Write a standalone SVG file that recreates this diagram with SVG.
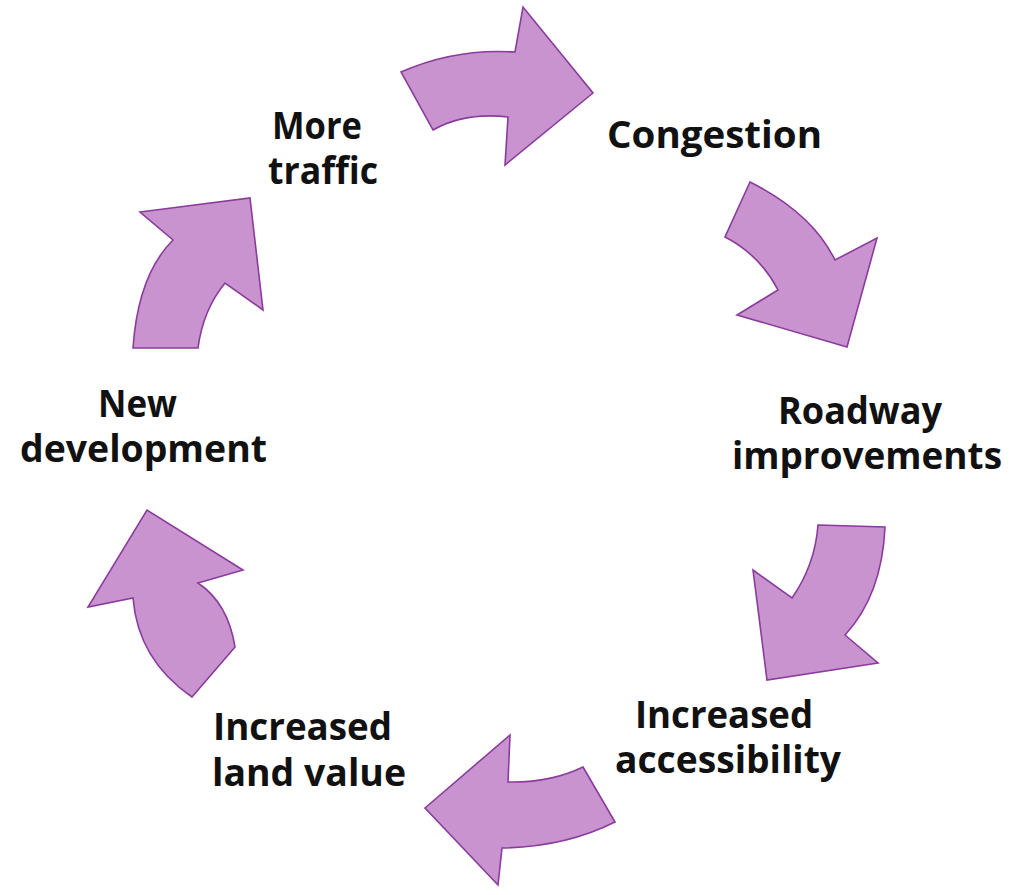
<svg xmlns="http://www.w3.org/2000/svg" width="1009" height="895" viewBox="0 0 1009 895">
<style>
.arrow{fill:#c993cf;stroke:#8a3c9c;stroke-width:1.6;stroke-linejoin:miter}
.lbl{font-family:"Open Sans","Liberation Sans",Arial,sans-serif;font-weight:bold;font-size:38px;fill:#111;text-anchor:middle}
</style>
<rect width="1009" height="895" fill="#ffffff"/>
<g id="connectors">
<path id="arrow-traffic-congestion" class="arrow" d="M401,72 Q455,48 515,52 L523,7 L593,93 L505,165 L508,117 Q465,112 433,130 Z"/>
<path id="arrow-congestion-roadway" class="arrow" d="M750,182 Q812,213 835,260 L877,238 L847,347 L737,315 L778,290 Q760,255 725,237 Z"/>
<path id="arrow-roadway-access" class="arrow" d="M818,525 L885,527 Q882,595 845,635 L878,663 L767,680 L753,570 L792,598 Q815,565 818,525 Z"/>
<path id="arrow-access-land" class="arrow" d="M583,767 L615,822 Q565,847 502,848 L498,885 L425,808 L510,735 L508,782 Q550,783 583,767 Z"/>
<path id="arrow-land-development" class="arrow" d="M192,697 L235,647 Q228,603 198,583 L243,570 L147,510 L88,607 L133,598 Q138,660 192,697 Z"/>
<path id="arrow-development-traffic" class="arrow" d="M133,348 Q138,275 173,240 L140,212 L250,198 L263,310 L225,283 Q203,310 198,348 Z"/>
</g>
<g id="node-more-traffic">
<text class="lbl" x="317" y="139" textLength="90" lengthAdjust="spacingAndGlyphs">More</text>
<text class="lbl" x="323" y="184" textLength="110" lengthAdjust="spacingAndGlyphs">traffic</text>
</g>
<g id="node-congestion">
<text class="lbl" x="714.5" y="148" textLength="215" lengthAdjust="spacingAndGlyphs">Congestion</text>
</g>
<g id="node-roadway">
<text class="lbl" x="860" y="424" textLength="164" lengthAdjust="spacingAndGlyphs">Roadway</text>
<text class="lbl" x="867" y="469" textLength="270" lengthAdjust="spacingAndGlyphs">improvements</text>
</g>
<g id="node-accessibility">
<text class="lbl" x="724" y="728" textLength="178" lengthAdjust="spacingAndGlyphs">Increased</text>
<text class="lbl" x="728" y="773" textLength="226" lengthAdjust="spacingAndGlyphs">accessibility</text>
</g>
<g id="node-land-value">
<text class="lbl" x="302.5" y="740" textLength="179" lengthAdjust="spacingAndGlyphs">Increased</text>
<text class="lbl" x="309" y="786" textLength="194" lengthAdjust="spacingAndGlyphs">land value</text>
</g>
<g id="node-new-development">
<text class="lbl" x="137.5" y="417" textLength="79" lengthAdjust="spacingAndGlyphs">New</text>
<text class="lbl" x="143.5" y="462" textLength="247" lengthAdjust="spacingAndGlyphs">development</text>
</g>
</svg>
